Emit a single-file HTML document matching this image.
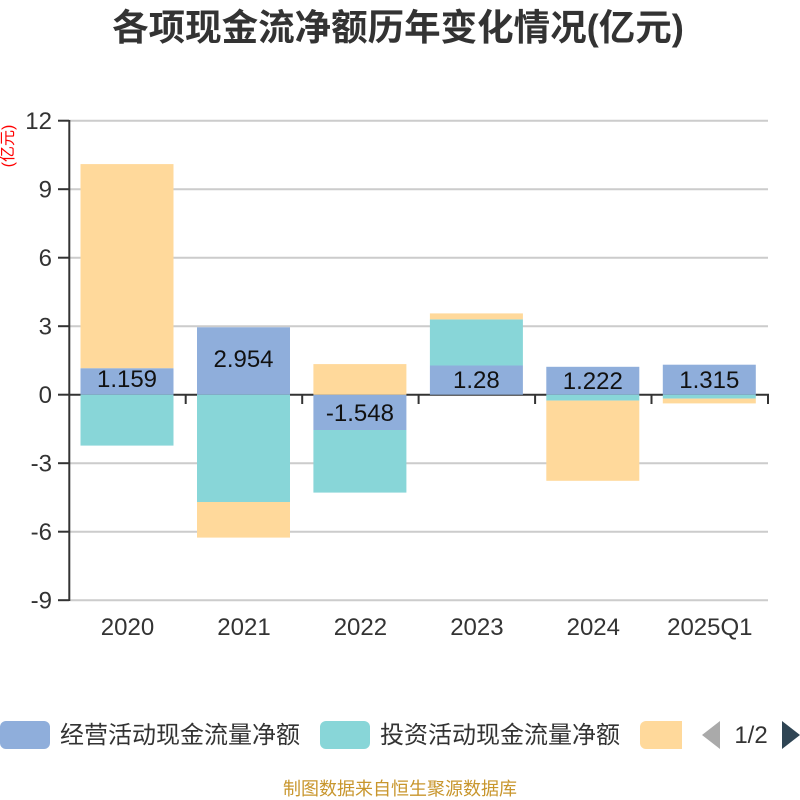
<!DOCTYPE html>
<html>
<head>
<meta charset="utf-8">
<style>
  html,body{margin:0;padding:0;background:#fff;}
  svg{display:block;}
  text{font-family:"Liberation Sans","Noto Sans CJK SC",sans-serif;}
</style>
</head>
<body>
<svg width="800" height="800" viewBox="0 0 800 800" xmlns="http://www.w3.org/2000/svg">
  <!-- Title -->
  <text x="398" y="40" text-anchor="middle" font-size="36.5" font-weight="bold" fill="#333">各项现金流净额历年变化情况(亿元)</text>

  <!-- Y axis unit label -->
  <text transform="translate(13,146) rotate(-90)" text-anchor="middle" font-size="16" fill="#ff0000">(亿元)</text>

  <!-- grid lines -->
  <g stroke="#cccccc" stroke-width="2">
    <line x1="69" y1="120.7" x2="768" y2="120.7"/>
    <line x1="69" y1="189.2" x2="768" y2="189.2"/>
    <line x1="69" y1="257.7" x2="768" y2="257.7"/>
    <line x1="69" y1="326.2" x2="768" y2="326.2"/>
    <line x1="69" y1="463.2" x2="768" y2="463.2"/>
    <line x1="69" y1="531.7" x2="768" y2="531.7"/>
    <line x1="69" y1="600.2" x2="768" y2="600.2"/>
  </g>

  <!-- x axis line -->
  <line x1="69" y1="394.7" x2="769" y2="394.7" stroke="#333" stroke-width="2"/>
  <!-- x ticks -->
  <g stroke="#333" stroke-width="2">
    <line x1="185.7" y1="394.7" x2="185.7" y2="404"/>
    <line x1="302.2" y1="394.7" x2="302.2" y2="404"/>
    <line x1="418.6" y1="394.7" x2="418.6" y2="404"/>
    <line x1="535.1" y1="394.7" x2="535.1" y2="404"/>
    <line x1="651.5" y1="394.7" x2="651.5" y2="404"/>
    <line x1="768" y1="394.7" x2="768" y2="404"/>
  </g>

  <!-- bars -->
  <g>
    <!-- 2020 -->
    <rect x="80.5" y="368.2" width="93" height="26.5" fill="#8faedb"/>
    <rect x="80.5" y="394.7" width="93" height="50.9" fill="#88d6d8"/>
    <rect x="80.5" y="164.1" width="93" height="204.1" fill="#ffd99b"/>
    <!-- 2021 -->
    <rect x="197" y="327.3" width="93" height="67.4" fill="#8faedb"/>
    <rect x="197" y="394.7" width="93" height="107.3" fill="#88d6d8"/>
    <rect x="197" y="502" width="93" height="35.6" fill="#ffd99b"/>
    <!-- 2022 -->
    <rect x="313.4" y="394.7" width="93" height="35.3" fill="#8faedb"/>
    <rect x="313.4" y="430" width="93" height="62.6" fill="#88d6d8"/>
    <rect x="313.4" y="364.1" width="93" height="30.6" fill="#ffd99b"/>
    <!-- 2023 -->
    <rect x="429.9" y="365.5" width="93" height="29.2" fill="#8faedb"/>
    <rect x="429.9" y="319.4" width="93" height="46.1" fill="#88d6d8"/>
    <rect x="429.9" y="313.4" width="93" height="6" fill="#ffd99b"/>
    <!-- 2024 -->
    <rect x="546.3" y="366.8" width="93" height="27.9" fill="#8faedb"/>
    <rect x="546.3" y="394.7" width="93" height="5.9" fill="#88d6d8"/>
    <rect x="546.3" y="400.6" width="93" height="80.2" fill="#ffd99b"/>
    <!-- 2025Q1 -->
    <rect x="662.8" y="364.7" width="93" height="30" fill="#8faedb"/>
    <rect x="662.8" y="394.7" width="93" height="3.9" fill="#88d6d8"/>
    <rect x="662.8" y="398.6" width="93" height="4.8" fill="#ffd99b"/>
  </g>

  <!-- y axis line -->
  <line x1="69.3" y1="120" x2="69.3" y2="601" stroke="#333" stroke-width="2"/>
  <g stroke="#333" stroke-width="2">
    <line x1="58" y1="120.7" x2="69" y2="120.7"/>
    <line x1="58" y1="189.2" x2="69" y2="189.2"/>
    <line x1="58" y1="257.7" x2="69" y2="257.7"/>
    <line x1="58" y1="326.2" x2="69" y2="326.2"/>
    <line x1="58" y1="394.7" x2="69" y2="394.7"/>
    <line x1="58" y1="463.2" x2="69" y2="463.2"/>
    <line x1="58" y1="531.7" x2="69" y2="531.7"/>
    <line x1="58" y1="600.2" x2="69" y2="600.2"/>
  </g>

  <!-- y tick labels -->
  <g font-size="24" fill="#333" text-anchor="end">
    <text x="52" y="129.2">12</text>
    <text x="52" y="197.7">9</text>
    <text x="52" y="266.2">6</text>
    <text x="52" y="334.7">3</text>
    <text x="52" y="403.2">0</text>
    <text x="52" y="471.7">-3</text>
    <text x="52" y="540.2">-6</text>
    <text x="52" y="608.7">-9</text>
  </g>

  <!-- x labels -->
  <g font-size="24" fill="#333" text-anchor="middle">
    <text x="127.5" y="635">2020</text>
    <text x="244" y="635">2021</text>
    <text x="360.4" y="635">2022</text>
    <text x="476.9" y="635">2023</text>
    <text x="593.3" y="635">2024</text>
    <text x="709.8" y="635">2025Q1</text>
  </g>

  <!-- bar value labels -->
  <g font-size="24" fill="#111" text-anchor="middle">
    <text x="127" y="387">1.159</text>
    <text x="243.5" y="367">2.954</text>
    <text x="359.9" y="421">-1.548</text>
    <text x="476.4" y="388">1.28</text>
    <text x="592.8" y="389">1.222</text>
    <text x="709.3" y="388">1.315</text>
  </g>

  <!-- legend -->
  <rect x="0" y="721" width="50" height="28" rx="6" fill="#8faedb"/>
  <text x="60" y="743" font-size="24" fill="#333">经营活动现金流量净额</text>
  <rect x="320" y="721" width="50" height="28" rx="6" fill="#88d6d8"/>
  <text x="380" y="743" font-size="24" fill="#333">投资活动现金流量净额</text>
  <path d="M646,721 H682 V749 H646 A6,6 0 0 1 640,743 V727 A6,6 0 0 1 646,721 Z" fill="#ffd99b"/>
  <polygon points="720,721 720,749 702,735" fill="#aaaaaa"/>
  <text x="751" y="743" font-size="24" fill="#333" text-anchor="middle">1/2</text>
  <polygon points="782,721 782,749 800,735" fill="#2f4554"/>

  <!-- footer -->
  <text x="400" y="795" font-size="18" fill="#c8962d" text-anchor="middle">制图数据来自恒生聚源数据库</text>
</svg>
</body>
</html>
